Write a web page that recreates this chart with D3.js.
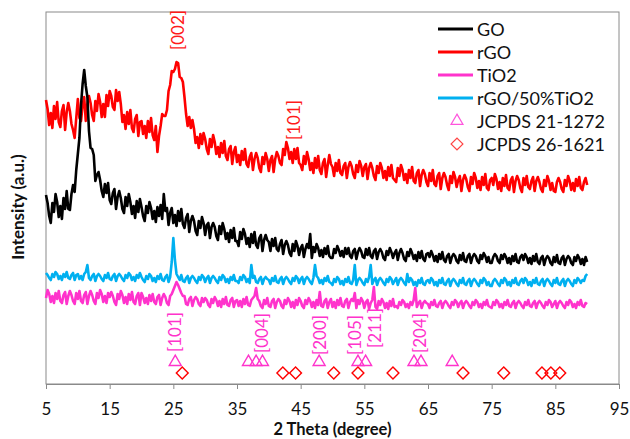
<!DOCTYPE html>
<html>
<head>
<meta charset="utf-8">
<script src="https://cdn.jsdelivr.net/npm/d3@7"></script>
<style>
  body { margin: 0; background: #fff; }
  svg text { font-family: Lato, "Open Sans", "DejaVu Sans", sans-serif; }
</style>
</head>
<body>
<svg id="chart" width="630" height="439"></svg>
<script>
// XRD patterns, sampled every 0.25 degree from 5 to 90 (2 theta); intensity in arbitrary units.
// Each row below covers 5 degrees (20 samples); the last value is 90 degrees.
const twoTheta = d3.range(5, 90.001, 0.25);

const goIntensity = [
  189,181,168,161,181,172,190,182,167,178,165,186,175,193,175,174,190,199,192,214,
  230,246,279,300,314,298,287,253,236,235,229,203,209,212,204,193,187,200,191,201,
  184,180,191,195,175,187,193,186,175,171,187,178,190,182,170,178,166,183,172,185,
  177,168,163,178,171,182,176,165,173,162,177,168,179,165,190,173,176,159,171,176,
  161,169,158,173,163,175,160,156,166,170,152,163,168,163,153,149,163,156,167,161,
  149,159,161,146,157,161,157,148,144,158,150,161,155,145,151,142,154,146,156,143,
  143,138,152,145,155,150,140,146,137,150,141,152,139,136,146,149,133,144,149,144,
  142,133,145,138,146,135,133,140,144,130,139,143,139,131,128,140,133,143,138,129,
  136,139,127,135,140,136,150,126,137,132,140,136,128,134,127,136,130,138,128,126,
  126,135,131,138,134,128,133,127,136,130,136,128,126,133,135,125,132,136,133,127,
  126,135,129,136,128,126,133,135,125,132,135,132,126,124,133,129,136,132,126,131,
  134,124,131,135,131,125,123,132,128,135,131,125,129,123,132,126,133,125,123,130,
  131,127,133,129,123,128,122,130,125,132,124,122,128,130,121,127,130,128,123,121,
  129,124,131,123,122,128,130,121,127,130,128,123,121,129,125,131,128,122,127,121,
  121,127,130,128,123,121,129,125,130,127,121,126,120,128,123,130,122,121,127,129,
  124,130,127,121,126,120,128,123,130,122,120,126,128,119,125,128,126,121,119,127,
  122,129,121,120,126,128,119,125,128,126,121,119,127,123,129,126,120,125,119,127,
  122
];

const rgoIntensity = [
  284,275,259,271,256,278,265,282,262,257,273,279,254,272,281,273,260,254,246,266,
  285,266,263,279,287,263,280,288,281,269,263,283,273,290,282,267,280,267,289,278,
  293,288,277,274,294,283,292,280,262,269,255,272,260,274,256,252,265,269,248,262,
  263,250,258,246,263,252,266,249,244,258,232,248,258,270,268,268,274,293,299,313,
  312,315,322,321,307,306,302,287,270,258,267,256,264,255,241,247,236,250,240,251,
  245,235,230,245,237,249,242,230,237,227,241,231,243,228,224,235,238,220,232,237,
  222,229,219,233,224,235,220,217,227,231,214,225,231,226,216,212,227,220,231,225,
  213,224,228,212,225,232,228,221,219,235,229,242,236,225,232,221,235,225,236,221,
  219,214,228,220,232,225,214,221,211,226,216,228,214,210,221,225,207,219,229,220,
  217,208,221,213,224,211,209,218,221,206,217,222,218,210,206,219,212,223,218,208,
  217,220,205,216,221,216,208,204,218,211,221,216,206,213,204,217,208,219,206,204,
  202,216,208,219,214,204,210,201,214,206,217,203,201,211,214,198,209,214,210,202,
  198,211,203,214,200,198,208,211,195,206,211,207,199,194,208,201,212,207,197,204,
  208,193,204,209,205,197,193,207,200,211,206,196,203,194,207,199,210,196,194,204,
  206,199,210,205,195,202,193,206,198,209,196,194,204,207,192,203,208,204,196,192,
  206,199,208,197,195,203,207,193,203,207,202,195,192,204,198,208,203,194,201,193,
  192,202,206,202,195,192,204,198,208,203,194,201,193,205,198,207,196,194,202,206,
  199
];

const tio2Intensity = [
  86,94,90,82,88,81,91,85,93,83,81,89,92,80,88,93,89,83,80,91,
  85,93,83,81,89,92,80,88,93,89,83,80,91,86,94,90,82,88,81,91,
  87,92,88,82,79,90,85,93,89,81,87,80,90,84,92,82,80,88,91,79,
  91,87,81,86,80,89,83,90,82,80,87,89,79,86,90,87,81,79,88,90,
  94,98,102,99,95,91,88,88,80,79,85,87,78,84,87,85,80,78,86,82,
  86,84,79,77,85,81,87,84,78,83,77,85,80,87,79,78,84,86,77,83,
  84,78,83,77,85,80,87,79,78,84,86,88,96,85,83,78,76,84,80,86,
  78,77,83,85,76,82,85,83,78,76,84,80,86,83,77,82,76,84,79,86,
  83,78,76,84,80,86,83,77,82,76,84,79,92,78,77,83,85,76,82,85,
  77,82,76,84,79,86,78,77,83,85,76,82,85,83,91,76,84,80,86,83,
  76,82,84,75,81,84,97,77,75,83,79,85,82,76,81,75,83,78,85,77,
  78,76,82,79,84,82,77,80,76,82,79,84,96,77,81,83,76,81,83,81,
  80,76,82,79,84,78,77,81,83,76,81,83,81,78,76,82,79,84,82,77,
  81,83,76,81,83,81,78,76,82,79,84,82,77,80,76,82,79,84,78,77,
  76,82,79,84,82,77,80,76,82,79,84,78,77,81,83,76,81,83,81,78,
  76,82,79,84,78,77,81,83,76,81,83,81,78,76,82,79,84,82,77,80,
  83,76,81,83,81,78,76,82,79,84,82,77,80,76,82,79,84,78,77,81,
  80
];

const compositeIntensity = [
  111,109,106,104,110,107,112,110,105,108,104,110,107,112,106,105,109,111,104,109,
  110,105,108,104,110,112,119,106,104,108,110,103,108,110,108,105,103,109,106,111,
  105,104,108,110,103,108,110,108,105,103,109,106,111,109,104,107,103,109,106,111,
  107,104,102,108,105,110,108,103,106,102,108,105,110,104,103,107,109,102,107,122,
  146,124,110,107,104,109,103,102,106,108,101,106,108,106,103,101,107,104,109,107,
  102,106,108,101,106,108,106,103,101,107,104,109,107,102,105,101,107,104,109,103,
  103,101,107,104,109,107,102,105,101,119,106,108,102,101,105,107,100,105,107,105,
  104,100,106,103,108,102,101,105,107,100,105,107,105,102,100,106,103,108,106,101,
  105,107,100,105,107,105,102,100,106,119,108,106,101,104,100,106,103,108,102,101,
  99,105,102,107,105,100,103,99,105,102,107,101,100,104,119,99,104,106,104,101,
  99,105,102,107,119,100,104,106,99,104,106,104,101,99,105,102,107,105,100,103,
  106,99,104,106,104,101,99,110,102,106,104,99,102,98,104,101,106,100,99,103,
  104,101,106,104,99,102,98,104,101,106,100,99,103,105,98,103,105,103,100,98,
  104,101,106,100,99,103,105,98,103,105,103,100,98,104,101,106,104,99,102,98,
  98,103,105,103,100,98,104,101,106,104,99,102,98,104,101,106,100,99,103,105,
  101,106,104,99,102,98,104,101,106,100,99,103,105,98,103,105,103,100,98,104,
  101,106,100,99,103,105,98,103,105,103,100,98,104,101,106,104,101,104,103,108,
  110
];

// Series order, names and colours
const seriesNames  = ["GO", "rGO", "TiO2", "rGO/50%TiO2"];
const seriesColors = ["#000000", "#ff0000", "#ff33cc", "#00b0f0"];
const seriesValues = [goIntensity, rgoIntensity, tio2Intensity, compositeIntensity];
const drawOrder = [1, 0, 2, 3];

// Reference reflections
const anataseAngles = [25.3, 36.8, 38.0, 39.0, 47.9, 54.0, 55.2, 62.8, 63.9, 68.8]; // JCPDS 21-1272
const anataseLevel = 22;
const refBAngles = [26.4, 42.2, 44.2, 50.2, 54.0, 59.5, 70.5, 76.9, 82.9, 84.3, 85.7]; // JCPDS 26-1621
const refBLevel = 11;
const refNames = ["JCPDS 21-1272", "JCPDS 26-1621"];

// Miller index labels
const tio2PlaneLabels = ["[101]", "[004]", "[200]", "[105]", "[211]", "[204]"];
const tio2PlaneAngles = [25.25, 38.9, 48.0, 53.5, 56.6, 63.6];
const tio2PlaneBase   = [32, 31, 29, 29, 36, 31];
const rgoPlaneLabels = ["[002]", "[101]"];
const rgoPlaneAngles = [25.6, 43.8];
const rgoPlaneBase   = [334, 244];

const xTicks = [5, 15, 25, 35, 45, 55, 65, 75, 85, 95];

const svg = d3.select("#chart");
const plotLeft = 46, plotRight = 619, plotTop = 12, plotBottom = 384;
const x = d3.scaleLinear().domain([5, 95]).range([plotLeft, plotRight]);
const y = d3.scaleLinear().domain([0, 372]).range([plotBottom, plotTop]);
const frameColor = "#8a8a8a";

// plot frame
svg.append("rect")
  .attr("x", plotLeft).attr("y", plotTop)
  .attr("width", plotRight - plotLeft).attr("height", plotBottom - plotTop)
  .attr("fill", "none").attr("stroke", frameColor).attr("stroke-width", 1);

// x axis
const xAxis = svg.append("g")
  .attr("transform", `translate(0,${plotBottom})`)
  .call(d3.axisBottom(x).tickValues(xTicks).tickSize(5).tickPadding(14).tickFormat(d3.format("d")));
xAxis.select(".domain").attr("stroke", frameColor);
xAxis.selectAll(".tick line").attr("stroke", frameColor);
xAxis.selectAll(".tick text")
  .attr("font-size", 17).attr("fill", "#111")
  .style("font-family", "Lato, 'Open Sans', sans-serif");

// axis titles
svg.append("text")
  .attr("x", (plotLeft + plotRight) / 2).attr("y", 435)
  .attr("text-anchor", "middle")
  .attr("font-size", 16.5).attr("font-weight", "bold").attr("fill", "#111")
  .text("2 Theta (degree)");
svg.append("text")
  .attr("transform", "translate(24,207) rotate(-90)")
  .attr("text-anchor", "middle")
  .attr("font-size", 17).attr("font-weight", "bold").attr("fill", "#111")
  .text("Intensity (a.u.)");

// diffraction patterns
const line = d3.line().x(d => x(d[0])).y(d => y(d[1]));
drawOrder.forEach(i => {
  svg.append("path")
    .datum(d3.zip(twoTheta, seriesValues[i]))
    .attr("fill", "none")
    .attr("stroke", seriesColors[i])
    .attr("stroke-width", 2.6)
    .attr("stroke-linejoin", "round")
    .attr("d", line);
});

// reference markers
const triPath = d3.symbol().type(d3.symbolTriangle).size(62)();
const diaPath = d3.symbol().type(d3.symbolSquare).size(70)();
svg.append("g").selectAll("path").data(anataseAngles).join("path")
  .attr("d", triPath)
  .attr("transform", d => `translate(${x(d)},${y(anataseLevel)})`)
  .attr("fill", "none").attr("stroke", "#ff33cc").attr("stroke-width", 1.4);
svg.append("g").selectAll("path").data(refBAngles).join("path")
  .attr("d", diaPath)
  .attr("transform", d => `translate(${x(d)},${y(refBLevel)}) rotate(45)`)
  .attr("fill", "none").attr("stroke", "#ff0000").attr("stroke-width", 1.4);

// Miller index labels
function planeLabels(labels, angles, base, color) {
  svg.append("g").selectAll("text").data(labels).join("text")
    .attr("transform", (d, i) => `translate(${x(angles[i])},${y(base[i])}) rotate(-90)`)
    .attr("dominant-baseline", "central")
    .attr("text-anchor", "start")
    .attr("font-size", 17)
    .attr("fill", color)
    .text(d => d);
}
planeLabels(tio2PlaneLabels, tio2PlaneAngles, tio2PlaneBase, "#ff33cc");
planeLabels(rgoPlaneLabels, rgoPlaneAngles, rgoPlaneBase, "#ff1a1a");

// legend
const legend = svg.append("g");
const rowY = i => 29 + 23 * i;
seriesNames.forEach((name, i) => {
  legend.append("line")
    .attr("x1", 438).attr("x2", 473).attr("y1", rowY(i)).attr("y2", rowY(i))
    .attr("stroke", seriesColors[i]).attr("stroke-width", 3);
  legend.append("text")
    .attr("x", 477).attr("y", rowY(i)).attr("dominant-baseline", "central")
    .attr("font-size", 18).attr("fill", "#111").text(name);
});
legend.append("path").attr("d", triPath)
  .attr("transform", `translate(457,${rowY(4)})`)
  .attr("fill", "none").attr("stroke", "#ff55dd").attr("stroke-width", 1.2);
legend.append("path").attr("d", diaPath)
  .attr("transform", `translate(457,${rowY(5)}) rotate(45)`)
  .attr("fill", "none").attr("stroke", "#ff4444").attr("stroke-width", 1.2);
refNames.forEach((name, j) => {
  legend.append("text")
    .attr("x", 477).attr("y", rowY(4 + j)).attr("dominant-baseline", "central")
    .attr("font-size", 18).attr("fill", "#111").text(name);
});
</script>
</body>
</html>
